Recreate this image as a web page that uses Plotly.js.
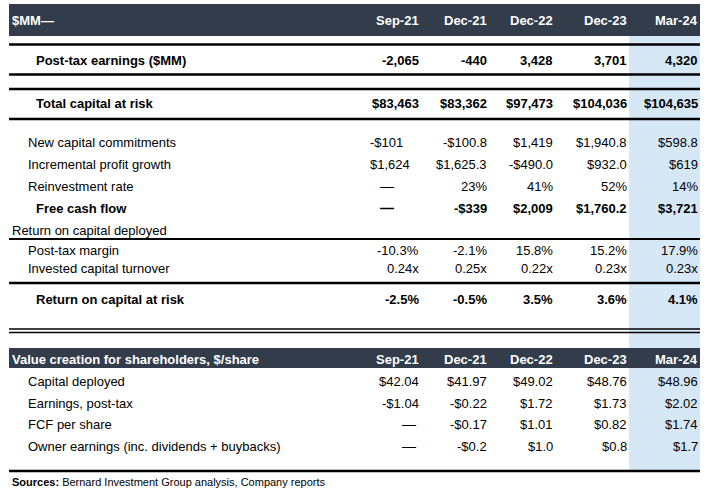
<!DOCTYPE html>
<html>
<head>
<meta charset="utf-8">
<script src="https://cdn.plot.ly/plotly-3.0.1.min.js"></script>
<style>html,body{margin:0;padding:0;background:#fff;}#chart{width:706px;height:493px;}</style>
</head>
<body>
<div id="chart"></div>
<script>
// ---- data ----
const periods = ['Sep-21', 'Dec-21', 'Dec-22', 'Dec-23', 'Mar-24'];
const postTaxEarnings = ['-2,065', '-440', '3,428', '3,701', '4,320'];
const totalCapitalAtRisk = ['$83,463', '$83,362', '$97,473', '$104,036', '$104,635'];
const newCapitalCommitments = ['-$101', '-$100.8', '$1,419', '$1,940.8', '$598.8'];
const incrementalProfitGrowth = ['$1,624', '$1,625.3', '-$490.0', '$932.0', '$619'];
const reinvestmentRate = ['—', '23%', '41%', '52%', '14%'];
const freeCashFlow = ['—', '-$339', '$2,009', '$1,760.2', '$3,721'];
const postTaxMargin = ['-10.3%', '-2.1%', '15.8%', '15.2%', '17.9%'];
const investedCapitalTurnover = ['0.24x', '0.25x', '0.22x', '0.23x', '0.23x'];
const returnOnCapitalAtRisk = ['-2.5%', '-0.5%', '3.5%', '3.6%', '4.1%'];
const capitalDeployedPerShare = ['$42.04', '$41.97', '$49.02', '$48.76', '$48.96'];
const earningsPostTaxPerShare = ['-$1.04', '-$0.22', '$1.72', '$1.73', '$2.02'];
const fcfPerShare = ['—', '-$0.17', '$1.01', '$0.82', '$1.74'];
const ownerEarningsPerShare = ['—', '-$0.2', '$1.0', '$0.8', '$1.7'];

const header1Label = '$MM—';
const header2Label = 'Value creation for shareholders, $/share';
const sourcesNote = '<b>Sources:</b> Bernard Investment Group analysis, Company reports';

// ---- layout / styling (positions in pixel-like axis units) ----
const colRight = [419, 487, 553, 627, 698];
const FONT = 'Liberation Sans, Arial, Helvetica, sans-serif';
const NAVY = '#323c4b';
const BLUE = '#d6e7f6';

// rows: label, values, y, label x, bold, first-column mode
const rows = [
  {label: 'Post-tax earnings ($MM)', vals: postTaxEarnings, y: 60, lx: 36, bold: true},
  {label: 'Total capital at risk', vals: totalCapitalAtRisk, y: 103, lx: 36, bold: true},
  {label: 'New capital commitments', vals: newCapitalCommitments, y: 142, lx: 28, bold: false, firstLeft: 370},
  {label: 'Incremental profit growth', vals: incrementalProfitGrowth, y: 164, lx: 28, bold: false, firstLeft: 370},
  {label: 'Reinvestment rate', vals: reinvestmentRate, y: 186, lx: 28, bold: false, dashCenter: 387},
  {label: 'Free cash flow', vals: freeCashFlow, y: 208, lx: 36, bold: true, dashCenter: 387},
  {label: 'Return on capital deployed', vals: null, y: 230, lx: 12, bold: false},
  {label: 'Post-tax margin', vals: postTaxMargin, y: 250, lx: 28, bold: false},
  {label: 'Invested capital turnover', vals: investedCapitalTurnover, y: 268, lx: 28, bold: false},
  {label: 'Return on capital at risk', vals: returnOnCapitalAtRisk, y: 299, lx: 36, bold: true},
  {label: 'Capital deployed', vals: capitalDeployedPerShare, y: 381, lx: 28, bold: false},
  {label: 'Earnings, post-tax', vals: earningsPostTaxPerShare, y: 403, lx: 28, bold: false},
  {label: 'FCF per share', vals: fcfPerShare, y: 424, lx: 28, bold: false, dashCenter: 409},
  {label: 'Owner earnings (inc. dividends + buybacks)', vals: ownerEarningsPerShare, y: 446, lx: 28, bold: false, dashCenter: 409}
];

const ann = [];
function addText(text, x, y, anchor, opts) {
  opts = opts || {};
  ann.push({
    xref: 'x', yref: 'y', x: x, y: y, text: text, showarrow: false,
    xanchor: anchor, yanchor: 'middle', borderpad: 0, borderwidth: 0,
    font: {family: FONT, size: opts.size || 13, color: opts.color || '#000'}
  });
}

// header rows
addText('<b>' + header1Label + '</b>', 12, 20, 'left', {color: '#fff'});
addText('<b>' + header2Label + '</b>', 12, 359, 'left', {color: '#fff'});
periods.forEach((p, i) => {
  addText('<b>' + p + '</b>', colRight[i], 20, 'right', {color: '#fff'});
  addText('<b>' + p + '</b>', colRight[i], 359, 'right', {color: '#fff'});
});

rows.forEach(r => {
  const wrap = t => r.bold ? '<b>' + t + '</b>' : t;
  addText(wrap(r.label), r.lx, r.y, 'left');
  if (!r.vals) return;
  r.vals.forEach((v, i) => {
    if (i === 0 && v === '—' && r.dashCenter) {
      addText(wrap(v), r.dashCenter, r.y, 'center', {size: 14});
    } else if (i === 0 && r.firstLeft) {
      addText(wrap(v), r.firstLeft, r.y, 'left');
    } else {
      addText(wrap(v), colRight[i], r.y, 'right');
    }
  });
});

addText(sourcesNote, 12, 482, 'left', {size: 11});

const shapes = [];
function rect(x0, y0, x1, y1, color) {
  shapes.push({type: 'rect', xref: 'x', yref: 'y', x0, y0, x1, y1, fillcolor: color, line: {width: 0}, layer: 'below'});
}
function hline(y, w, x0, x1) {
  shapes.push({type: 'line', xref: 'x', yref: 'y', x0: x0 || 9, x1: x1 || 700, y0: y, y1: y, line: {color: '#000', width: w}, layer: 'above'});
}
rect(629, 36, 700, 471, BLUE);
rect(9, 4, 700, 36, NAVY);
rect(9, 348, 700, 368, NAVY);
hline(44.5, 2.5);
hline(74.5, 2.5);
hline(89, 2.5);
hline(119, 2.5);
hline(239, 2);
hline(283, 2.5);
hline(329, 1.5);
hline(332.5, 1.5);
hline(471, 2.5);

const layout = {
  width: 706, height: 493,
  margin: {l: 0, r: 0, t: 0, b: 0},
  paper_bgcolor: '#fff', plot_bgcolor: '#fff',
  xaxis: {range: [0, 706], visible: false, fixedrange: true},
  yaxis: {range: [493, 0], visible: false, fixedrange: true},
  showlegend: false,
  annotations: ann,
  shapes: shapes
};

Plotly.newPlot('chart', [{x: [], y: [], type: 'scatter', mode: 'markers', hoverinfo: 'skip'}], layout, {staticPlot: true});
</script>
</body>
</html>
